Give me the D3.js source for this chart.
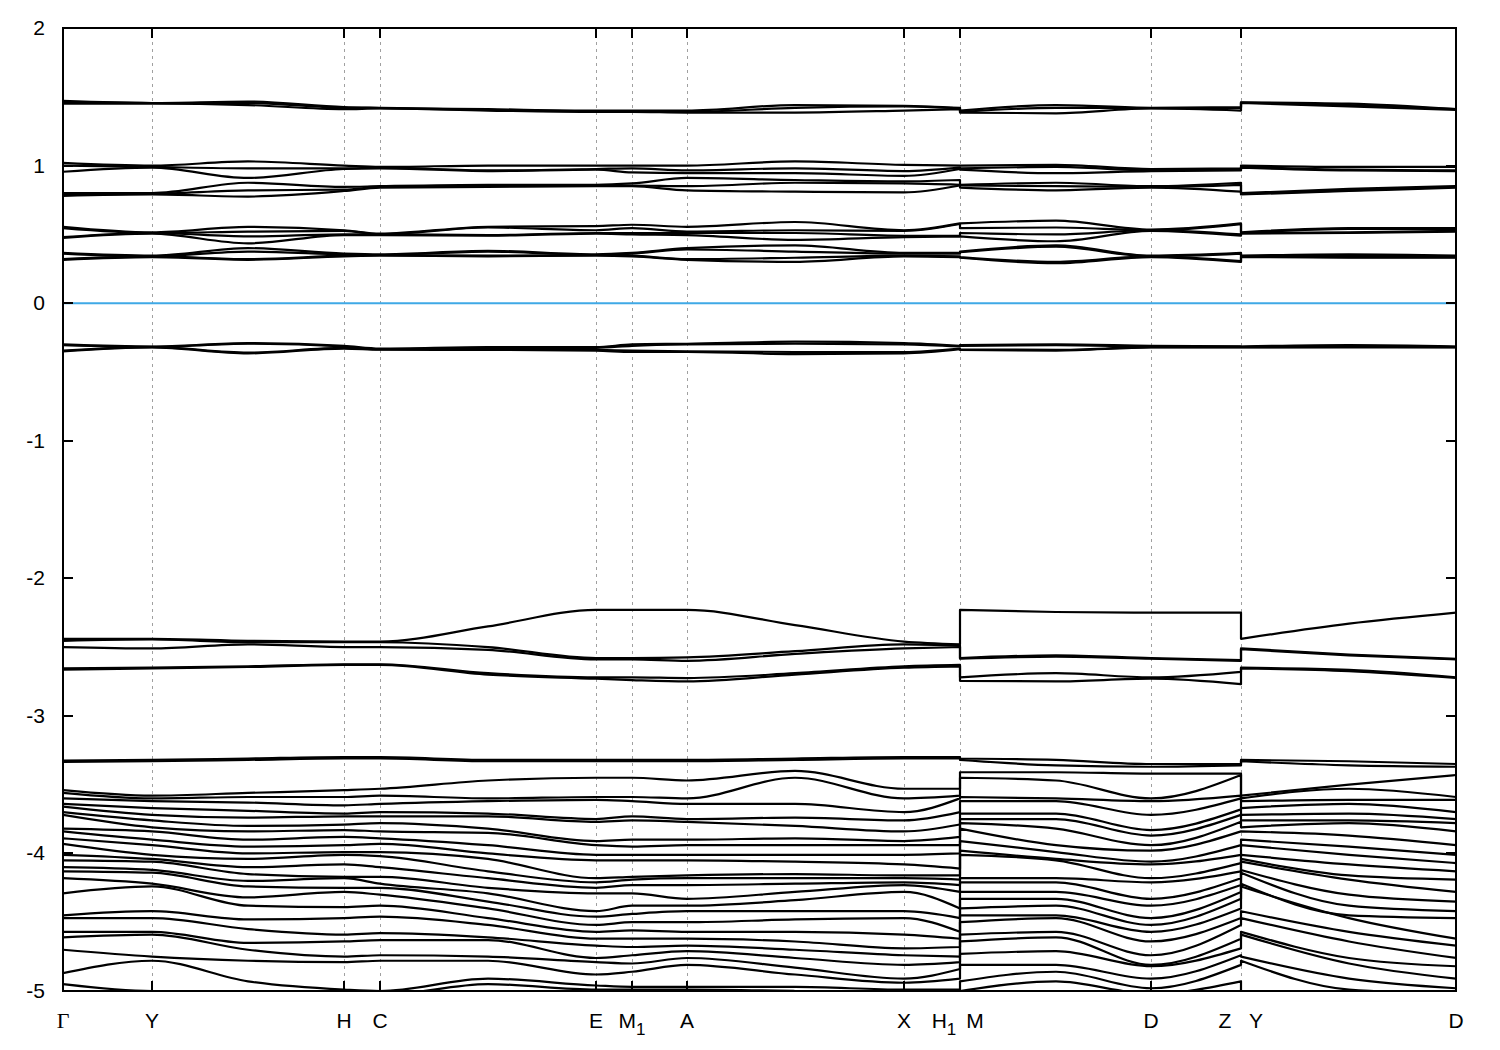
<!DOCTYPE html>
<html><head><meta charset="utf-8">
<script src="https://cdn.jsdelivr.net/npm/d3@7/dist/d3.min.js"></script>
<style>body{margin:0;background:#fff}</style>
</head><body>
<svg id="chart" width="1500" height="1050"></svg>
<script>
// ---- k-path (distance along path) of sampled points ----
// Γ, Y, (Y-H), H, C, (C-E), E, M1, A, (A-X), X, H1 | M, (M-D), D, Z | Y, (Y-D), D
const kDist = [0, 0.89, 1.85, 2.81, 3.17, 4.25, 5.33, 5.69, 6.24, 7.32, 8.41, 8.97, 8.97, 9.93, 10.88, 11.78, 11.78, 12.86, 13.93];
const pieces = [[0, 11], [12, 15], [16, 18]];

// high-symmetry ticks and labels
const tickK = [0, 0.89, 2.81, 3.17, 5.33, 5.69, 6.24, 8.41, 8.97, 10.88, 11.78, 13.93];
const tickLabels = [["Γ"], ["Y"], ["H"], ["C"], ["E"], ["M_1"], ["A"], ["X"], ["H_1", "M"], ["D"], ["Z", "Y"], ["D"]];
const yTicks = [2, 1, 0, -1, -2, -3, -4, -5];
const fermiLevel = 0;

// ---- bands (eV) at the 19 sampled k-points ----
const bandsTop = [
  [1.47, 1.455, 1.465, 1.425, 1.42, 1.41, 1.40, 1.40, 1.40, 1.44, 1.435, 1.42, 1.40, 1.44, 1.42, 1.425, 1.46, 1.45, 1.41],
  [1.46, 1.455, 1.455, 1.42, 1.418, 1.405, 1.395, 1.395, 1.39, 1.42, 1.43, 1.415, 1.39, 1.42, 1.418, 1.42, 1.458, 1.44, 1.41],
  [1.45, 1.45, 1.44, 1.41, 1.415, 1.40, 1.39, 1.39, 1.385, 1.385, 1.40, 1.41, 1.385, 1.38, 1.415, 1.40, 1.455, 1.43, 1.405]
];
const bandsNearOne = [
  [1.02, 1.00, 1.03, 1.00, 0.99, 1.00, 1.00, 1.00, 1.00, 1.03, 1.005, 1.00, 1.00, 1.005, 0.975, 0.98, 1.00, 0.99, 0.99],
  [1.00, 0.99, 0.98, 0.98, 0.985, 0.965, 0.975, 0.98, 0.965, 0.98, 0.96, 0.985, 0.98, 0.99, 0.965, 0.97, 0.99, 0.97, 0.965],
  [0.955, 0.985, 0.91, 0.975, 0.98, 0.96, 0.97, 0.95, 0.945, 0.945, 0.925, 0.975, 0.97, 0.945, 0.96, 0.965, 0.985, 0.965, 0.96],
  [0.80, 0.80, 0.875, 0.845, 0.85, 0.86, 0.86, 0.87, 0.91, 0.895, 0.885, 0.895, 0.86, 0.875, 0.85, 0.875, 0.80, 0.83, 0.85],
  [0.79, 0.795, 0.82, 0.825, 0.845, 0.85, 0.855, 0.855, 0.85, 0.875, 0.87, 0.86, 0.855, 0.85, 0.845, 0.86, 0.795, 0.82, 0.845],
  [0.78, 0.79, 0.775, 0.815, 0.84, 0.845, 0.85, 0.85, 0.82, 0.81, 0.805, 0.855, 0.84, 0.82, 0.84, 0.81, 0.79, 0.815, 0.84]
];
const bandsHalf = [
  [0.555, 0.515, 0.555, 0.53, 0.505, 0.555, 0.56, 0.57, 0.555, 0.59, 0.53, 0.58, 0.58, 0.60, 0.535, 0.58, 0.515, 0.545, 0.545],
  [0.545, 0.51, 0.52, 0.525, 0.50, 0.55, 0.53, 0.545, 0.52, 0.53, 0.525, 0.575, 0.545, 0.55, 0.53, 0.575, 0.51, 0.54, 0.54],
  [0.48, 0.51, 0.485, 0.50, 0.50, 0.495, 0.51, 0.51, 0.51, 0.51, 0.49, 0.49, 0.51, 0.50, 0.53, 0.50, 0.51, 0.515, 0.525],
  [0.475, 0.505, 0.435, 0.495, 0.495, 0.49, 0.505, 0.50, 0.495, 0.46, 0.48, 0.485, 0.485, 0.45, 0.525, 0.49, 0.505, 0.51, 0.52],
  [0.365, 0.345, 0.40, 0.36, 0.355, 0.38, 0.355, 0.365, 0.40, 0.42, 0.365, 0.365, 0.375, 0.42, 0.345, 0.365, 0.345, 0.355, 0.345],
  [0.36, 0.34, 0.375, 0.355, 0.35, 0.375, 0.35, 0.36, 0.39, 0.375, 0.36, 0.36, 0.37, 0.41, 0.34, 0.36, 0.34, 0.35, 0.34],
  [0.32, 0.34, 0.32, 0.345, 0.35, 0.345, 0.35, 0.345, 0.32, 0.33, 0.345, 0.34, 0.335, 0.30, 0.34, 0.305, 0.34, 0.335, 0.335],
  [0.315, 0.335, 0.315, 0.34, 0.345, 0.34, 0.345, 0.34, 0.315, 0.30, 0.34, 0.335, 0.33, 0.29, 0.335, 0.30, 0.335, 0.33, 0.33]
];
const bandsValenceTop = [
  [-0.30, -0.315, -0.29, -0.31, -0.33, -0.32, -0.32, -0.30, -0.295, -0.28, -0.29, -0.31, -0.305, -0.30, -0.31, -0.315, -0.315, -0.305, -0.315],
  [-0.305, -0.318, -0.295, -0.315, -0.335, -0.325, -0.325, -0.31, -0.30, -0.295, -0.30, -0.315, -0.31, -0.305, -0.315, -0.318, -0.318, -0.31, -0.318],
  [-0.345, -0.32, -0.36, -0.325, -0.335, -0.335, -0.34, -0.345, -0.35, -0.355, -0.355, -0.33, -0.335, -0.34, -0.32, -0.318, -0.32, -0.318, -0.32],
  [-0.35, -0.322, -0.365, -0.33, -0.338, -0.34, -0.345, -0.355, -0.355, -0.37, -0.365, -0.335, -0.34, -0.345, -0.322, -0.32, -0.322, -0.322, -0.322]
];
const bandsMid = [
  [-2.44, -2.44, -2.455, -2.46, -2.46, -2.35, -2.23, -2.23, -2.23, -2.34, -2.46, -2.48, -2.23, -2.245, -2.25, -2.25, -2.44, -2.33, -2.25],
  [-2.455, -2.445, -2.465, -2.465, -2.465, -2.50, -2.58, -2.58, -2.575, -2.53, -2.48, -2.49, -2.58, -2.56, -2.58, -2.595, -2.51, -2.555, -2.585],
  [-2.50, -2.51, -2.48, -2.50, -2.50, -2.52, -2.59, -2.59, -2.60, -2.55, -2.51, -2.50, -2.585, -2.57, -2.585, -2.60, -2.515, -2.56, -2.59],
  [-2.655, -2.65, -2.64, -2.625, -2.625, -2.69, -2.72, -2.72, -2.725, -2.69, -2.64, -2.63, -2.72, -2.69, -2.72, -2.68, -2.65, -2.665, -2.72],
  [-2.665, -2.655, -2.645, -2.63, -2.63, -2.70, -2.73, -2.74, -2.75, -2.70, -2.65, -2.64, -2.745, -2.75, -2.73, -2.77, -2.655, -2.675, -2.725]
];
// deep valence manifold: one column (27 sorted energies) per sampled k-point
const deepColumns = [
  [-3.325, -3.335, -3.54, -3.56, -3.60, -3.64, -3.66, -3.70, -3.72, -3.82, -3.84, -3.89, -3.93, -4.01, -4.05, -4.10, -4.13, -4.18, -4.29, -4.45, -4.47, -4.57, -4.61, -4.70, -4.87, -4.95, -5.05],
  [-3.32, -3.33, -3.58, -3.60, -3.62, -3.67, -3.72, -3.76, -3.81, -3.84, -3.90, -3.94, -4.01, -4.04, -4.06, -4.12, -4.14, -4.22, -4.24, -4.42, -4.47, -4.57, -4.59, -4.75, -4.78, -5.00, -5.10],
  [-3.31, -3.32, -3.56, -3.59, -3.63, -3.69, -3.74, -3.80, -3.84, -3.90, -3.95, -4.00, -4.04, -4.10, -4.15, -4.20, -4.24, -4.32, -4.38, -4.48, -4.55, -4.65, -4.70, -4.78, -4.93, -5.00, -5.08],
  [-3.30, -3.31, -3.54, -3.59, -3.65, -3.71, -3.73, -3.79, -3.83, -3.88, -3.94, -3.99, -4.01, -4.08, -4.17, -4.18, -4.25, -4.28, -4.39, -4.47, -4.59, -4.64, -4.75, -4.79, -4.99, -5.02, -5.08],
  [-3.30, -3.31, -3.53, -3.58, -3.64, -3.70, -3.73, -3.78, -3.84, -3.89, -3.93, -3.99, -4.02, -4.10, -4.17, -4.22, -4.25, -4.30, -4.38, -4.46, -4.58, -4.63, -4.74, -4.78, -5.00, -5.03, -5.08],
  [-3.32, -3.33, -3.47, -3.60, -3.62, -3.71, -3.73, -3.82, -3.85, -3.94, -4.00, -4.04, -4.13, -4.18, -4.25, -4.29, -4.35, -4.40, -4.47, -4.52, -4.61, -4.63, -4.75, -4.78, -4.91, -4.95, -5.00],
  [-3.32, -3.33, -3.45, -3.59, -3.61, -3.75, -3.77, -3.91, -3.94, -4.01, -4.05, -4.18, -4.21, -4.25, -4.29, -4.42, -4.46, -4.52, -4.57, -4.62, -4.67, -4.76, -4.79, -4.88, -4.96, -4.99, -5.02],
  [-3.32, -3.33, -3.45, -3.59, -3.62, -3.73, -3.76, -3.90, -3.95, -4.01, -4.05, -4.17, -4.19, -4.23, -4.29, -4.38, -4.44, -4.50, -4.56, -4.62, -4.68, -4.74, -4.80, -4.86, -4.97, -4.99, -5.02],
  [-3.32, -3.33, -3.47, -3.60, -3.64, -3.75, -3.77, -3.90, -3.94, -4.01, -4.05, -4.16, -4.18, -4.23, -4.33, -4.38, -4.42, -4.50, -4.57, -4.62, -4.67, -4.71, -4.76, -4.81, -4.97, -4.99, -5.02],
  [-3.31, -3.32, -3.40, -3.45, -3.64, -3.74, -3.80, -3.89, -3.94, -4.01, -4.06, -4.15, -4.18, -4.22, -4.28, -4.34, -4.42, -4.48, -4.57, -4.64, -4.70, -4.76, -4.83, -4.88, -4.97, -5.00, -5.03],
  [-3.30, -3.31, -3.53, -3.60, -3.70, -3.76, -3.84, -3.91, -3.94, -4.01, -4.08, -4.16, -4.18, -4.21, -4.23, -4.28, -4.42, -4.47, -4.59, -4.69, -4.74, -4.81, -4.91, -4.94, -4.99, -5.02, -5.05],
  [-3.30, -3.31, -3.53, -3.58, -3.60, -3.70, -3.79, -3.88, -3.94, -4.00, -4.11, -4.16, -4.19, -4.23, -4.28, -4.40, -4.47, -4.57, -4.62, -4.68, -4.75, -4.79, -4.84, -4.91, -4.99, -5.02, -5.05],
  [-3.31, -3.32, -3.41, -3.45, -3.59, -3.62, -3.71, -3.75, -3.78, -3.82, -3.91, -3.98, -4.01, -4.18, -4.21, -4.28, -4.33, -4.40, -4.45, -4.50, -4.59, -4.64, -4.73, -4.81, -4.93, -5.00, -5.05],
  [-3.32, -3.36, -3.41, -3.47, -3.60, -3.62, -3.71, -3.75, -3.82, -3.94, -3.99, -4.04, -4.05, -4.18, -4.21, -4.28, -4.33, -4.38, -4.45, -4.47, -4.57, -4.61, -4.71, -4.81, -4.86, -4.93, -5.00],
  [-3.35, -3.37, -3.42, -3.60, -3.62, -3.72, -3.83, -3.87, -3.94, -3.98, -4.06, -4.08, -4.18, -4.21, -4.33, -4.38, -4.47, -4.52, -4.57, -4.64, -4.74, -4.81, -4.82, -4.91, -4.98, -5.02, -5.05],
  [-3.35, -3.36, -3.42, -3.43, -3.58, -3.60, -3.68, -3.72, -3.77, -3.84, -3.94, -4.01, -4.07, -4.13, -4.18, -4.23, -4.28, -4.33, -4.40, -4.47, -4.52, -4.62, -4.69, -4.74, -4.81, -4.93, -5.00],
  [-3.32, -3.33, -3.58, -3.60, -3.62, -3.67, -3.72, -3.76, -3.81, -3.84, -3.90, -3.94, -4.01, -4.04, -4.06, -4.12, -4.14, -4.22, -4.24, -4.42, -4.47, -4.57, -4.59, -4.75, -4.78, -5.00, -5.10],
  [-3.33, -3.36, -3.50, -3.53, -3.61, -3.64, -3.71, -3.76, -3.78, -3.87, -3.95, -4.01, -4.08, -4.16, -4.19, -4.30, -4.38, -4.45, -4.47, -4.57, -4.64, -4.76, -4.80, -4.91, -4.99, -5.05, -5.10],
  [-3.35, -3.37, -3.43, -3.59, -3.61, -3.70, -3.75, -3.78, -3.84, -3.94, -4.01, -4.07, -4.13, -4.19, -4.28, -4.35, -4.42, -4.47, -4.62, -4.67, -4.76, -4.82, -4.91, -4.98, -5.02, -5.05, -5.10]
];

// ---- drawing ----
const svg = d3.select("#chart");
const L = 63, R = 1456, T = 28, B = 991;
const x = d3.scaleLinear().domain([0, 13.93]).range([L, R]);
const y = d3.scaleLinear().domain([-5, 2]).range([B, T]);
const FONT = "'Liberation Sans', Arial, Helvetica, sans-serif";

svg.append("rect").attr("width", 1500).attr("height", 1050).attr("fill", "#fff");
svg.append("defs").append("clipPath").attr("id", "plotclip")
  .append("rect").attr("x", L).attr("y", T).attr("width", R - L).attr("height", B - T);

// vertical dashed grid at high-symmetry points
svg.append("g").selectAll("line").data(tickK.slice(1, -1)).join("line")
  .attr("x1", d => Math.round(x(d)) + 0.5).attr("x2", d => Math.round(x(d)) + 0.5)
  .attr("y1", T).attr("y2", B)
  .attr("stroke", "#a0a0a0").attr("stroke-width", 1).attr("stroke-dasharray", "3,4");

// Fermi level
svg.append("line").attr("x1", L).attr("x2", R)
  .attr("y1", y(fermiLevel)).attr("y2", y(fermiLevel))
  .attr("stroke", "#3fa9e6").attr("stroke-width", 2);

// bands
const deepBands = d3.range(deepColumns[0].length).map(i => deepColumns.map(c => c[i]));
const allBands = [...bandsTop, ...bandsNearOne, ...bandsHalf, ...bandsValenceTop, ...bandsMid, ...deepBands];
const line = d3.line().x(d => x(d[0])).y(d => y(d[1])).curve(d3.curveMonotoneX);
function bandPath(vals) {
  let s = "";
  pieces.forEach(([a, b], i) => {
    const pts = d3.range(a, b + 1).map(j => [kDist[j], vals[j]]);
    let p = line(pts);
    if (i > 0) p = "L" + p.slice(1);
    s += p;
  });
  return s;
}
svg.append("g").attr("clip-path", "url(#plotclip)")
  .selectAll("path").data(allBands).join("path")
  .attr("d", bandPath)
  .attr("fill", "none").attr("stroke", "#000").attr("stroke-width", 2.2)
  .attr("stroke-linejoin", "round");

// frame
svg.append("rect").attr("x", L).attr("y", T).attr("width", R - L).attr("height", B - T)
  .attr("fill", "none").attr("stroke", "#000").attr("stroke-width", 2);

// x ticks (top and bottom, inward)
const tk = svg.append("g").attr("stroke", "#000").attr("stroke-width", 2);
tickK.slice(1, -1).forEach(k => {
  const xx = Math.round(x(k));
  tk.append("line").attr("x1", xx).attr("x2", xx).attr("y1", B).attr("y2", B - 10);
  tk.append("line").attr("x1", xx).attr("x2", xx).attr("y1", T).attr("y2", T + 10);
});
// y ticks (left and right, inward)
yTicks.slice(1, -1).forEach(v => {
  const yy = Math.round(y(v));
  tk.append("line").attr("x1", L).attr("x2", L + 10).attr("y1", yy).attr("y2", yy);
  tk.append("line").attr("x1", R).attr("x2", R - 10).attr("y1", yy).attr("y2", yy);
});

// y tick labels
svg.append("g").selectAll("text").data(yTicks).join("text")
  .attr("x", 45).attr("y", d => y(d) + 7)
  .attr("text-anchor", "end").attr("font-family", FONT).attr("font-size", 21)
  .attr("fill", "#000").text(d => d);

// x tick labels
const xl = svg.append("g").attr("font-family", FONT).attr("font-size", 21).attr("fill", "#000");
function addLabel(str, cx) {
  const t = xl.append("text").attr("x", cx).attr("y", 1028).attr("text-anchor", "middle");
  const [base, sub] = str.split("_");
  const b = t.append("tspan").text(base);
  if (base === "Γ") b.attr("font-family", "'Liberation Serif', 'DejaVu Serif', serif").attr("font-size", 22);
  if (sub) t.append("tspan").attr("dy", 7).attr("font-size", 17).text(sub);
}
tickK.forEach((k, i) => {
  const parts = tickLabels[i];
  const cx = x(k);
  if (parts.length === 1) addLabel(parts[0], cx);
  else { addLabel(parts[0], cx - 16); addLabel(parts[1], cx + 15); }
});
</script>
</body></html>
